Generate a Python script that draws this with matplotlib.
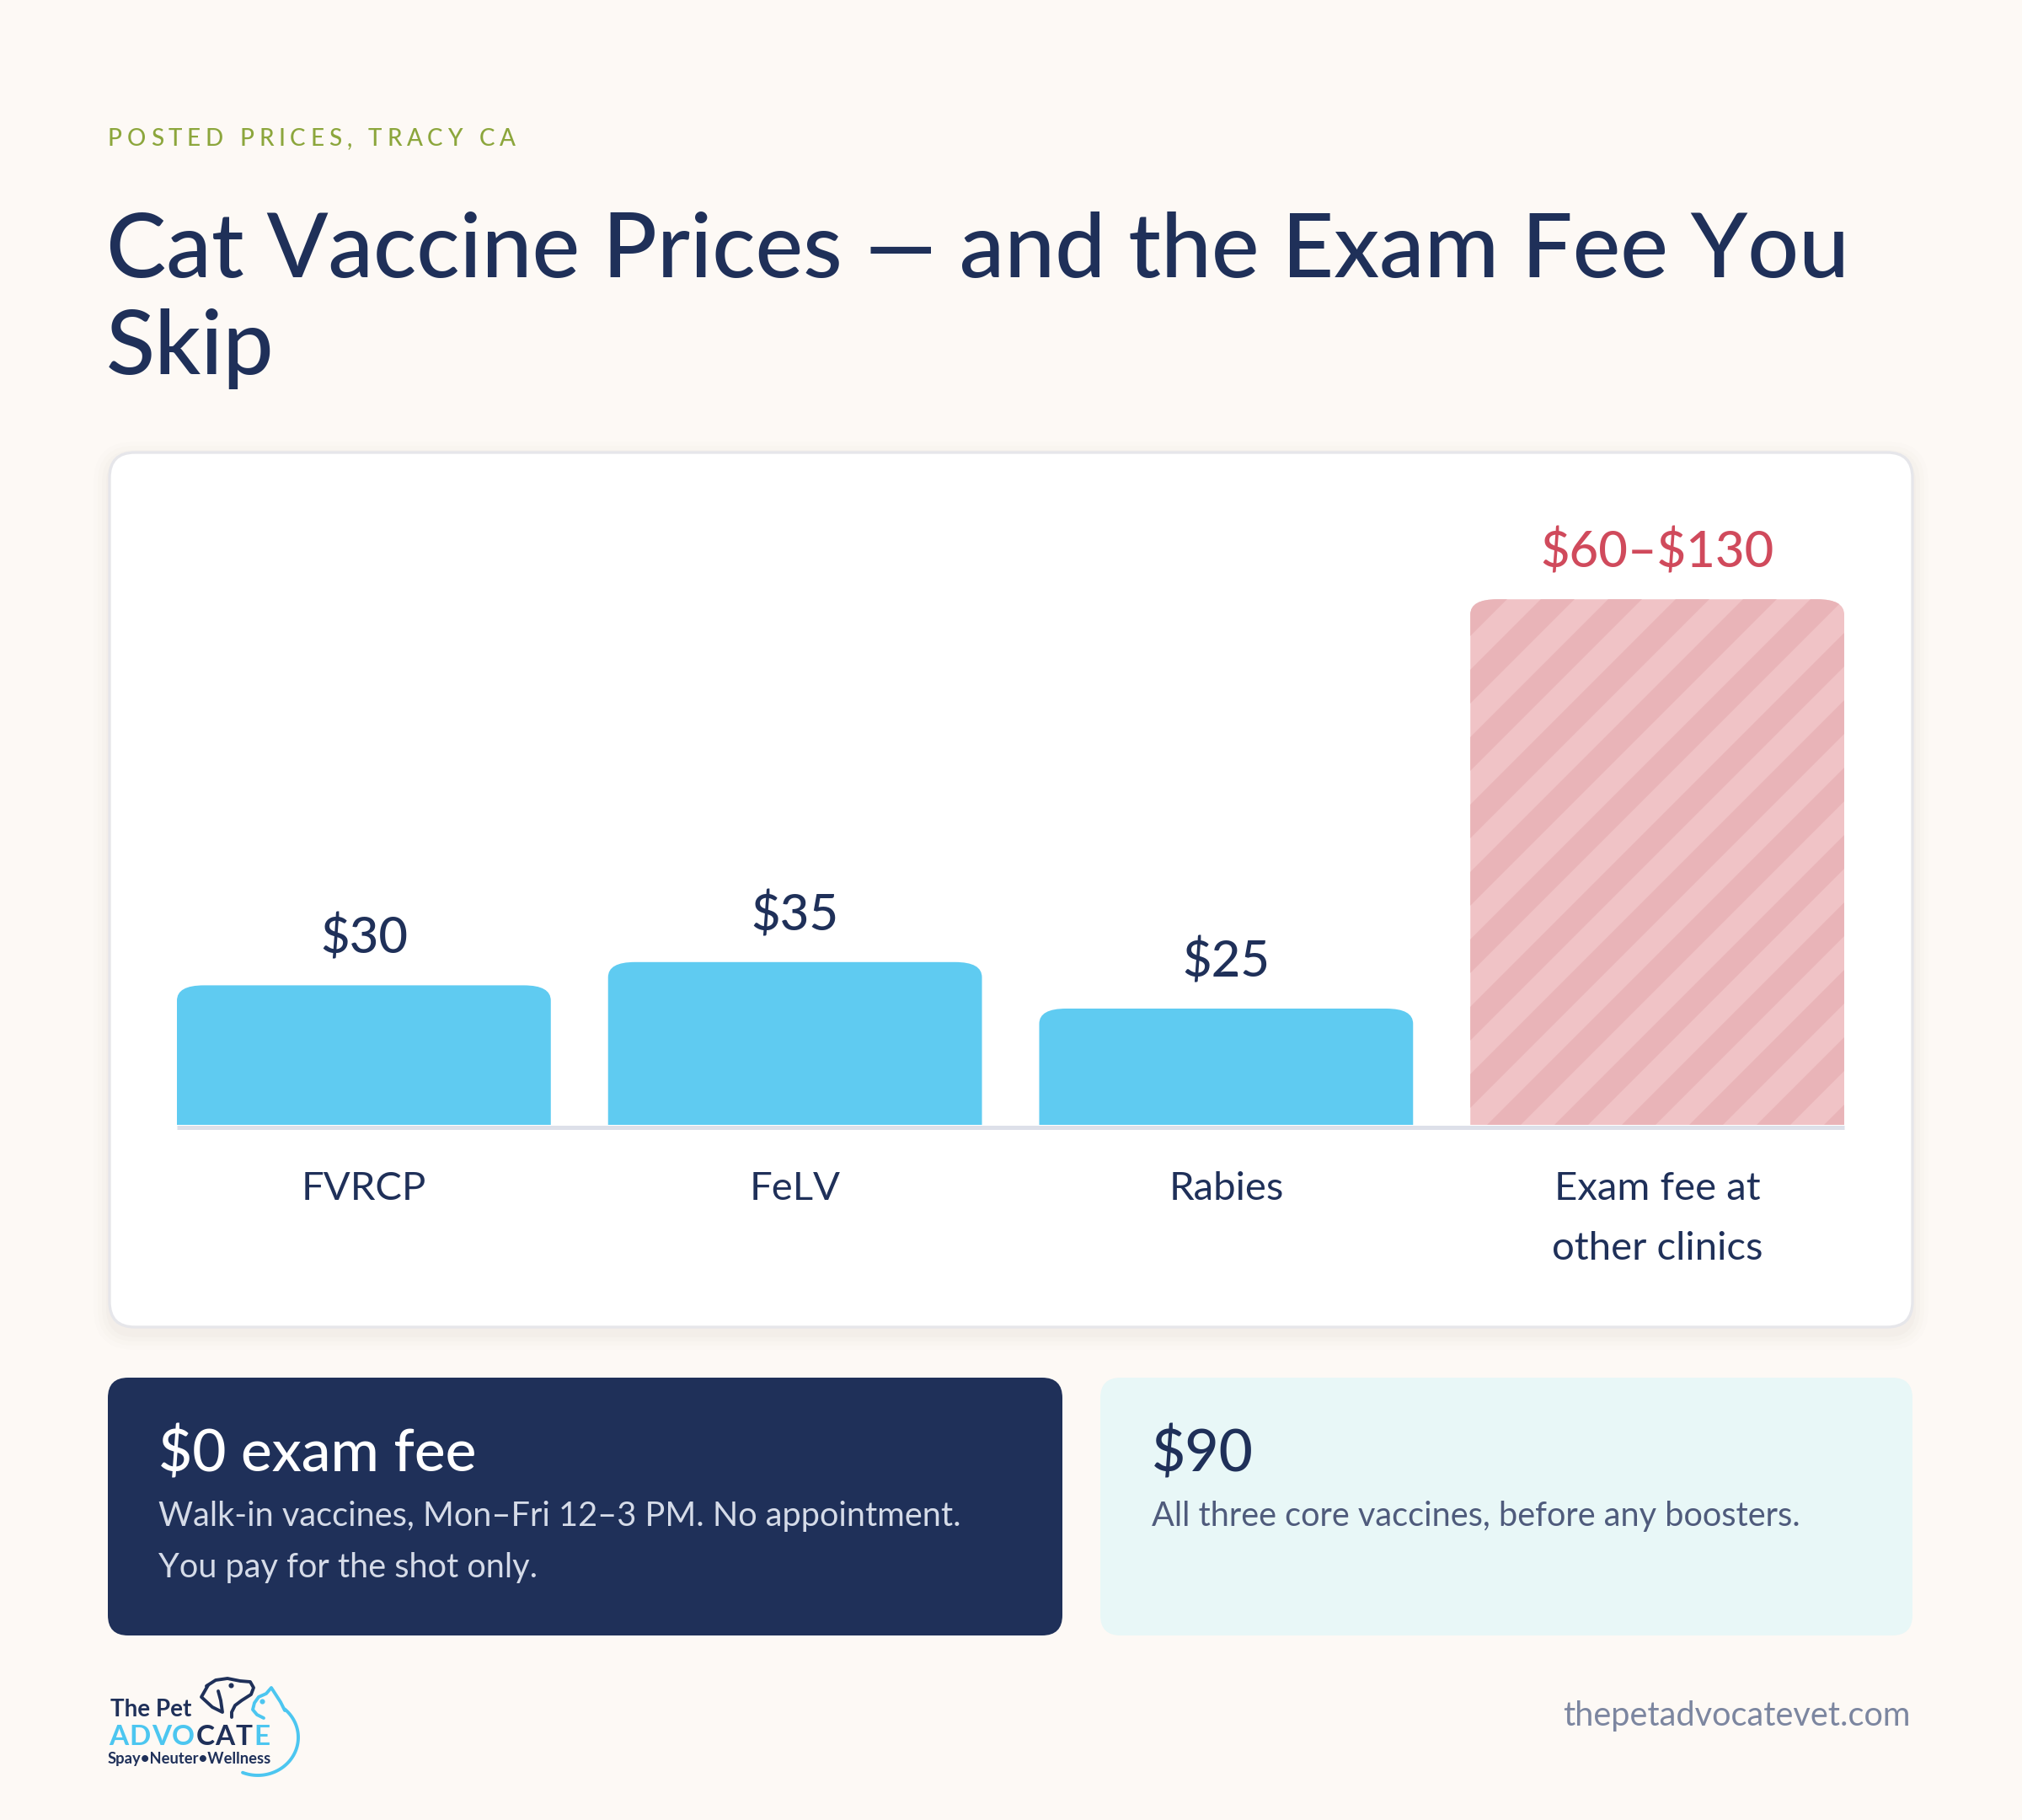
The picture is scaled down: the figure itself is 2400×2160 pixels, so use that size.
import numpy as np
import matplotlib
matplotlib.use("Agg")
import matplotlib.pyplot as plt
from matplotlib.patches import FancyBboxPatch, Polygon

# chart data
categories = ["FVRCP", "FeLV", "Rabies", "Exam fee at\nother clinics"]
bar_heights = [30, 35, 25, 113]          # exam bar is drawn capped (range 60-130)
value_labels = [r"\$30", r"\$35", r"\$25", "\\$60\u2013\\$130"]
is_range = [False, False, False, True]

subtitle = "POSTED PRICES, TRACY CA"
title_lines = ["Cat Vaccine Prices \u2014 and the Exam Fee You", "Skip"]
box1_head = r"\$0 exam fee"
box1_body = ["Walk-in vaccines, Mon\u2013Fri 12\u20133 PM. No appointment.",
             "You pay for the shot only."]
box2_head = r"\$90"
box2_body = ["All three core vaccines, before any boosters."]
footer = "thepetadvocatevet.com"

# colours
BG = "#fdf9f5"
NAVY = "#1f3059"
BLUE = "#5fcbf1"
PINK = "#f0c3c6"
PINK_DARK = "#e9b4b8"
RED = "#d04a5c"
GREEN = "#8ca63c"
FONT = "Lato"

plt.rcParams["font.family"] = [FONT, "DejaVu Sans"]

W, H = 2400, 2160
fig = plt.figure(figsize=(12, 10.8), dpi=200, facecolor=BG)

# background axes in pixel coordinates (y down)
bg = fig.add_axes([0, 0, 1, 1])
bg.set_xlim(0, W)
bg.set_ylim(H, 0)
bg.axis("off")
renderer = fig.canvas.get_renderer()


def rbox(x0, y0, x1, y1, r, fc, ec="none", lw=0, z=1, alpha=1.0):
    p = FancyBboxPatch((x0, y0), x1 - x0, y1 - y0,
                       boxstyle=f"round,pad=0,rounding_size={r}",
                       fc=fc, ec=ec, lw=lw, zorder=z, alpha=alpha)
    bg.add_patch(p)
    return p


def spaced(x, y, s, track, colors, **kw):
    # draw text one glyph at a time so letters can be spread out
    if isinstance(colors, str):
        colors = [colors] * len(s)
    size = kw.get("fontsize", 10)
    for ch, c in zip(s, colors):
        if ch == " ":
            x += size * 0.28 * 200 / 72 + track
            continue
        t = bg.text(x, y, ch, color=c, va="baseline", ha="left", **kw)
        x += t.get_window_extent(renderer).width + track
    return x


# header
spaced(128, 173, subtitle, 5.8, GREEN, fontsize=10, fontweight="medium")
bg.text(126, 329, title_lines[0], fontsize=38.5, color=NAVY, fontweight="medium",
        va="baseline", ha="left")
bg.text(126, 444, title_lines[1], fontsize=38.5, color=NAVY, fontweight="medium",
        va="baseline", ha="left")

# card with a soft shadow
for i, a in enumerate([0.018, 0.014, 0.010, 0.007]):
    g = 4 + i * 5
    rbox(130 - g, 537 - g + 6, 2270 + g, 1575 + g + 8, 30 + g, "#6b5a40", z=1, alpha=a)
rbox(130, 537, 2270, 1575, 30, "white", ec="#e6e6ea", lw=1.2, z=2)

# bar chart axes: bottom edge sits on the card baseline
ax = fig.add_axes([210 / W, 1 - 1335 / H, (2189 - 210) / W, (1335 - 600) / H])
ax.set_zorder(3)
ax.patch.set_visible(False)
ax.axis("off")
ax.set_xlim(-0.4336, 3.4336)
ax.set_ylim(0, 133.15)

bw = 0.8672
px_per_x = (2189 - 210) / (3.4336 * 2)
px_per_y = (1335 - 600) / 133.15
rad = 18
rx, ry = rad / px_per_x, rad / px_per_y

for i, (h, lab, rng) in enumerate(zip(bar_heights, value_labels, is_range)):
    fc = PINK if rng else BLUE
    bar = FancyBboxPatch((i - bw / 2, -ry), bw, h + ry,
                         boxstyle=f"round,pad=0,rounding_size={rx}",
                         mutation_aspect=ry / rx, fc=fc, ec="none", zorder=2)
    ax.add_patch(bar)
    if rng:
        # diagonal stripes, clipped to the bar shape
        for c in np.arange(1500, 3600, 80):
            st = Polygon([[c - 2400, 2400], [c + 2400, -2400],
                          [c + 2440, -2400], [c - 2360, 2400]],
                         closed=True, fc=PINK_DARK, ec="none", zorder=3,
                         transform=bg.transData)
            ax.add_patch(st)
            st.set_clip_path(bar)
    ax.annotate(lab, (i, h), xytext=(0, 13.5), textcoords="offset points",
                ha="center", va="baseline", fontsize=21.5, fontweight="medium",
                color=RED if rng else NAVY, annotation_clip=False)
    for k, line in enumerate(categories[i].split("\n")):
        ax.annotate(line, (i, 0), xytext=(0, -32 - 25.6 * k),
                    textcoords="offset points", ha="center", va="baseline",
                    fontsize=17, color=NAVY, annotation_clip=False)

# baseline rule under the bars
bg.plot([210, 2189], [1337.5, 1337.5], color="#dde0e9", lw=1.8,
        solid_capstyle="butt", zorder=4)

# summary boxes
rbox(128, 1635, 1261, 1941, 24, NAVY, z=2)
rbox(1306, 1635, 2270, 1941, 24, "#e8f7f7", z=2)

bg.text(188, 1746, box1_head, fontsize=25, color="white", fontweight="medium",
        va="baseline", zorder=5)
for k, line in enumerate(box1_body):
    bg.text(188, 1811 + 61 * k, line, fontsize=14.3, color="#d5dbe8",
            va="baseline", zorder=5)
bg.text(1367, 1746, box2_head, fontsize=25, color=NAVY, fontweight="medium",
        va="baseline", zorder=5)
for k, line in enumerate(box2_body):
    bg.text(1367, 1811 + 61 * k, line, fontsize=14.3, color="#4f5b7c",
            va="baseline", zorder=5)

# footer
bg.text(2268, 2048, footer, fontsize=14.3, color="#7c86a0", ha="right",
        va="baseline")

# logo
LB = "#4cc6f0"
bg.text(131, 2037, "The Pet", fontsize=10, fontweight="bold", color=NAVY,
        va="baseline")
spaced(129, 2071, "ADVOCATE", 1.2,
       [LB, LB, LB, LB, NAVY, NAVY, NAVY, LB], fontsize=12, fontweight="bold")
bg.text(128, 2093, "Spay\u2022Neuter\u2022Wellness", fontsize=6.6,
        fontweight="bold", color=NAVY, va="baseline")

t = np.linspace(np.radians(48), np.radians(-112), 80)
bg.plot(306 + 48 * np.cos(t), 2062 - 45 * np.sin(t), color=LB, lw=1.4,
        solid_capstyle="round")
cat_head = np.array([[338, 2030], [333, 2020], [322, 2003], [316, 2010],
                     [307, 2014], [302, 2021], [300, 2029], [305, 2035],
                     [313, 2039]])
bg.plot(cat_head[:, 0], cat_head[:, 1], color=LB, lw=1.4,
        solid_joinstyle="round", solid_capstyle="round")
bg.plot([311], [2019], "o", color=LB, ms=1.2)
dog_head = np.array([[245, 2001], [256, 1994], [270, 1992], [285, 1995],
                     [297, 1996], [301, 2003], [298, 2011], [287, 2018],
                     [279, 2024], [275, 2032], [275, 2038]])
bg.plot(dog_head[:, 0], dog_head[:, 1], color=NAVY, lw=1.4,
        solid_joinstyle="round", solid_capstyle="round")
dog_ear = np.array([[247, 2000], [239, 2014], [252, 2026], [264, 2032],
                    [262, 2018], [259, 2007]])
bg.plot(dog_ear[:, 0], dog_ear[:, 1], color=NAVY, lw=1.4,
        solid_joinstyle="round", solid_capstyle="round")
bg.plot([274], [2000], "o", color=NAVY, ms=1.2)

fig.savefig("out.png", dpi=200, facecolor=BG)
